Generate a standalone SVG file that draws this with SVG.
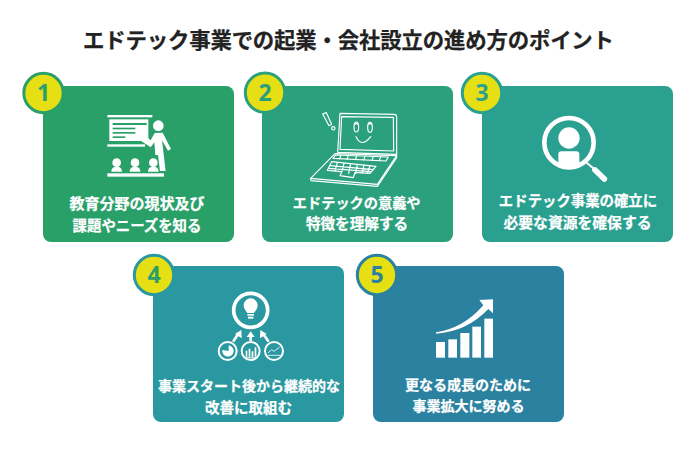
<svg xmlns="http://www.w3.org/2000/svg" width="700" height="450" viewBox="0 0 700 450">
<style>
text{font-family:"Noto Sans CJK JP","Noto Sans",sans-serif;font-weight:700}
.t{font-size:21.4px;fill:#222;stroke:#222;stroke-width:.25}
.l{font-size:14px;fill:#fff;stroke:#fff;stroke-width:.25;text-anchor:middle}
.n{font-family:"Noto Sans","Liberation Sans",sans-serif;font-size:23px;text-anchor:middle}
.w{fill:#fff}
.s{fill:none;stroke:#fff;stroke-linejoin:round;stroke-linecap:round}
</style>
<rect width="700" height="450" fill="#fff"/>
<text class="t" x="83" y="48" textLength="531">エドテック事業での起業・会社設立の進め方のポイント</text>

<g id="card1">
<rect x="43" y="86" width="191" height="156" rx="8" fill="#2aa069"/>
<circle cx="43.5" cy="93" r="19.700" fill="#e6df14" stroke="#2aa069" stroke-width="3"/>
<text class="n" x="43.5" y="101" fill="#2aa069">1</text>
<g transform="translate(20 65) scale(.33333)">
<rect class="w" x="262" y="150" width="135" height="7"/>
<rect class="w" x="268" y="163" width="117" height="65"/>
<rect class="w" x="262" y="238" width="113" height="7"/>
<g fill="#2aa069"><rect x="278" y="174" width="102" height="6"/><rect x="278" y="188" width="68" height="5"/><rect x="278" y="201" width="68" height="5"/><rect x="278" y="214" width="38" height="5"/></g>
<circle class="w" cx="415" cy="182" r="16"/>
<path class="w" d="M360 226L374 210L392 226L404 204L428 203L453 252L444 257L426 226L437 318L420 318L414 270L406 270L403 232L392 247Z"/>
<rect class="w" x="262" y="325" width="170" height="10"/>
<g class="w">
<circle cx="290" cy="293" r="13"/><path d="M274 320q0-15 16-15t16 15Z"/>
<circle cx="345" cy="293" r="13"/><path d="M329 320q0-15 16-15t16 15Z"/>
<circle cx="400" cy="293" r="13"/><path d="M384 320q0-15 16-15t16 15Z"/>
</g>
</g>
<text class="l" x="137" y="208.500" style="font-size:15px">教育分野の現状及び</text>
<text class="l" x="137" y="230.500" style="font-size:14.4px">課題やニーズを知る</text>
</g>

<g id="card2">
<rect x="262" y="86" width="191" height="156" rx="8" fill="#2ba07c"/>
<circle cx="265" cy="92.700" r="19.700" fill="#e6df14" stroke="#2ba07c" stroke-width="3"/>
<text class="n" x="265" y="101" fill="#2ba07c">2</text>
<g transform="translate(240 65) scale(.33333)" class="s" stroke-width="3.500">
<path d="M248 147L259 143L275 178L267 182Z"/><circle cx="280" cy="190" r="5"/>
<path d="M300 145L462 148Q470 148 470 156L470 268L293 262Z"/>
<path d="M305 155L460 157L461 258L300 253Z"/>
<ellipse cx="349" cy="186" rx="7" ry="15"/><ellipse cx="390" cy="187" rx="7" ry="15"/>
<path d="M345 178q4-6 8 0M386 178q4-6 8 0"/>
<path d="M348 215Q365 250 392 215"/>
<path d="M285 266L470 272L412 358L212 340Z"/>
<path d="M212 340L213 347L412 364L470 278L470 272"/>
<path d="M287 270L445 276L438 288L279 280Z"/>
<path d="M303 271L299 281M325 272L321 283M350 273L346 284M375 274L371 285M400 275L396 286M422 276L418 287"/>
<path d="M275 290L408 304L390 325L345 322L340 338L300 332L305 320L262 316Z"/>
<path d="M270 302L400 314M266 310L392 320M292 292L285 318M312 294L306 320M332 296L326 325M352 298L347 326M372 300L366 324M390 302L382 324"/>
</g>
<text class="l" x="356.700" y="208" style="font-size:14.2px">エドテックの意義や</text>
<text class="l" x="357" y="229" style="font-size:14.6px">特徴を理解する</text>
</g>

<g id="card3">
<rect x="482" y="86" width="191" height="156" rx="8" fill="#2aa090"/>
<circle cx="482" cy="93" r="19.700" fill="#e6df14" stroke="#2aa090" stroke-width="3"/>
<text class="n" x="482" y="101" fill="#2aa090">3</text>
<g transform="translate(460 65) scale(.33333)">
<clipPath id="lens"><circle cx="327" cy="233" r="70"/></clipPath>
<circle cx="327" cy="233" r="74" fill="none" stroke="#fff" stroke-width="14"/>
<circle class="w" cx="327" cy="219" r="32"/>
<rect class="w" x="295" y="259" width="63" height="60" rx="9" clip-path="url(#lens)"/>
<path class="s" d="M378 292L400 310" stroke-width="6"/>
<path class="s" d="M405 315L433 342" stroke-width="17"/>
</g>
<text class="l" x="578" y="206" style="font-size:14.4px">エドテック事業の確立に</text>
<text class="l" x="577.500" y="228" style="font-size:14.8px">必要な資源を確保する</text>
</g>

<g id="card4">
<rect x="153" y="266" width="191" height="156" rx="8" fill="#2a98a0"/>
<circle cx="154" cy="275" r="19.700" fill="#e6df14" stroke="#2a98a0" stroke-width="3"/>
<text class="n" x="154" y="283" fill="#2aa069">4</text>
<g transform="translate(130 250) scale(.33333)">
<circle cx="362" cy="181" r="51" class="s" stroke-width="11"/>
<path class="w" d="M352 189C345 180 341 175 341 166A21 21 0 0 1 383 166C383 175 379 180 372 189Z"/>
<rect class="w" x="352" y="192" width="20" height="5"/><rect class="w" x="354" y="200" width="16" height="6"/>
<g class="s" stroke-width="6">
<circle cx="293" cy="303" r="27"/><circle cx="362" cy="303" r="27"/><circle cx="432" cy="303" r="27"/>
</g>
<path class="s" stroke-width="8" d="M311 272L326 250M362 270L362 256M414 272L398 250"/>
<path class="w" d="M334 240L335 265L315 252ZM362 244L374 261L350 261ZM391 240L410 252L390 265Z"/>
<path class="w" d="M296 286A17 17 0 1 1 277 300L296 303Z"/>
<path class="w" d="M343 322h38v3h-38ZM347 302h5v18h-5ZM356 296h5v24h-5ZM365 304h5v16h-5ZM374 292h5v28h-5Z"/>
<path class="s" stroke-width="2.500" d="M415 316h36M415 308L425 299L432 304L448 292"/>
</g>
<text class="l" x="249" y="391">事業スタート後から継続的な</text>
<text class="l" x="248.500" y="412.500" style="font-size:14.5px">改善に取組む</text>
</g>

<g id="card5">
<rect x="373" y="266" width="191" height="156" rx="8" fill="#2a82a0"/>
<circle cx="377" cy="275" r="19.700" fill="#e6df14" stroke="#2a82a0" stroke-width="3"/>
<text class="n" x="377" y="283" fill="#2a82a0">5</text>
<g transform="translate(350 250) scale(.33333)" class="w">
<rect x="258" y="276" width="27" height="47"/><rect x="295" y="268" width="26" height="55"/><rect x="331" y="249" width="27" height="74"/><rect x="367" y="230" width="26" height="93"/><rect x="403" y="206" width="26" height="117"/>
<path d="M258 247Q340 235 400 166L388 150L429 148L429 190L415 177Q350 245 258 251Z"/>
</g>
<text class="l" x="468" y="390">更なる成長のために</text>
<text class="l" x="468.400" y="411">事業拡大に努める</text>
</g>
</svg>
